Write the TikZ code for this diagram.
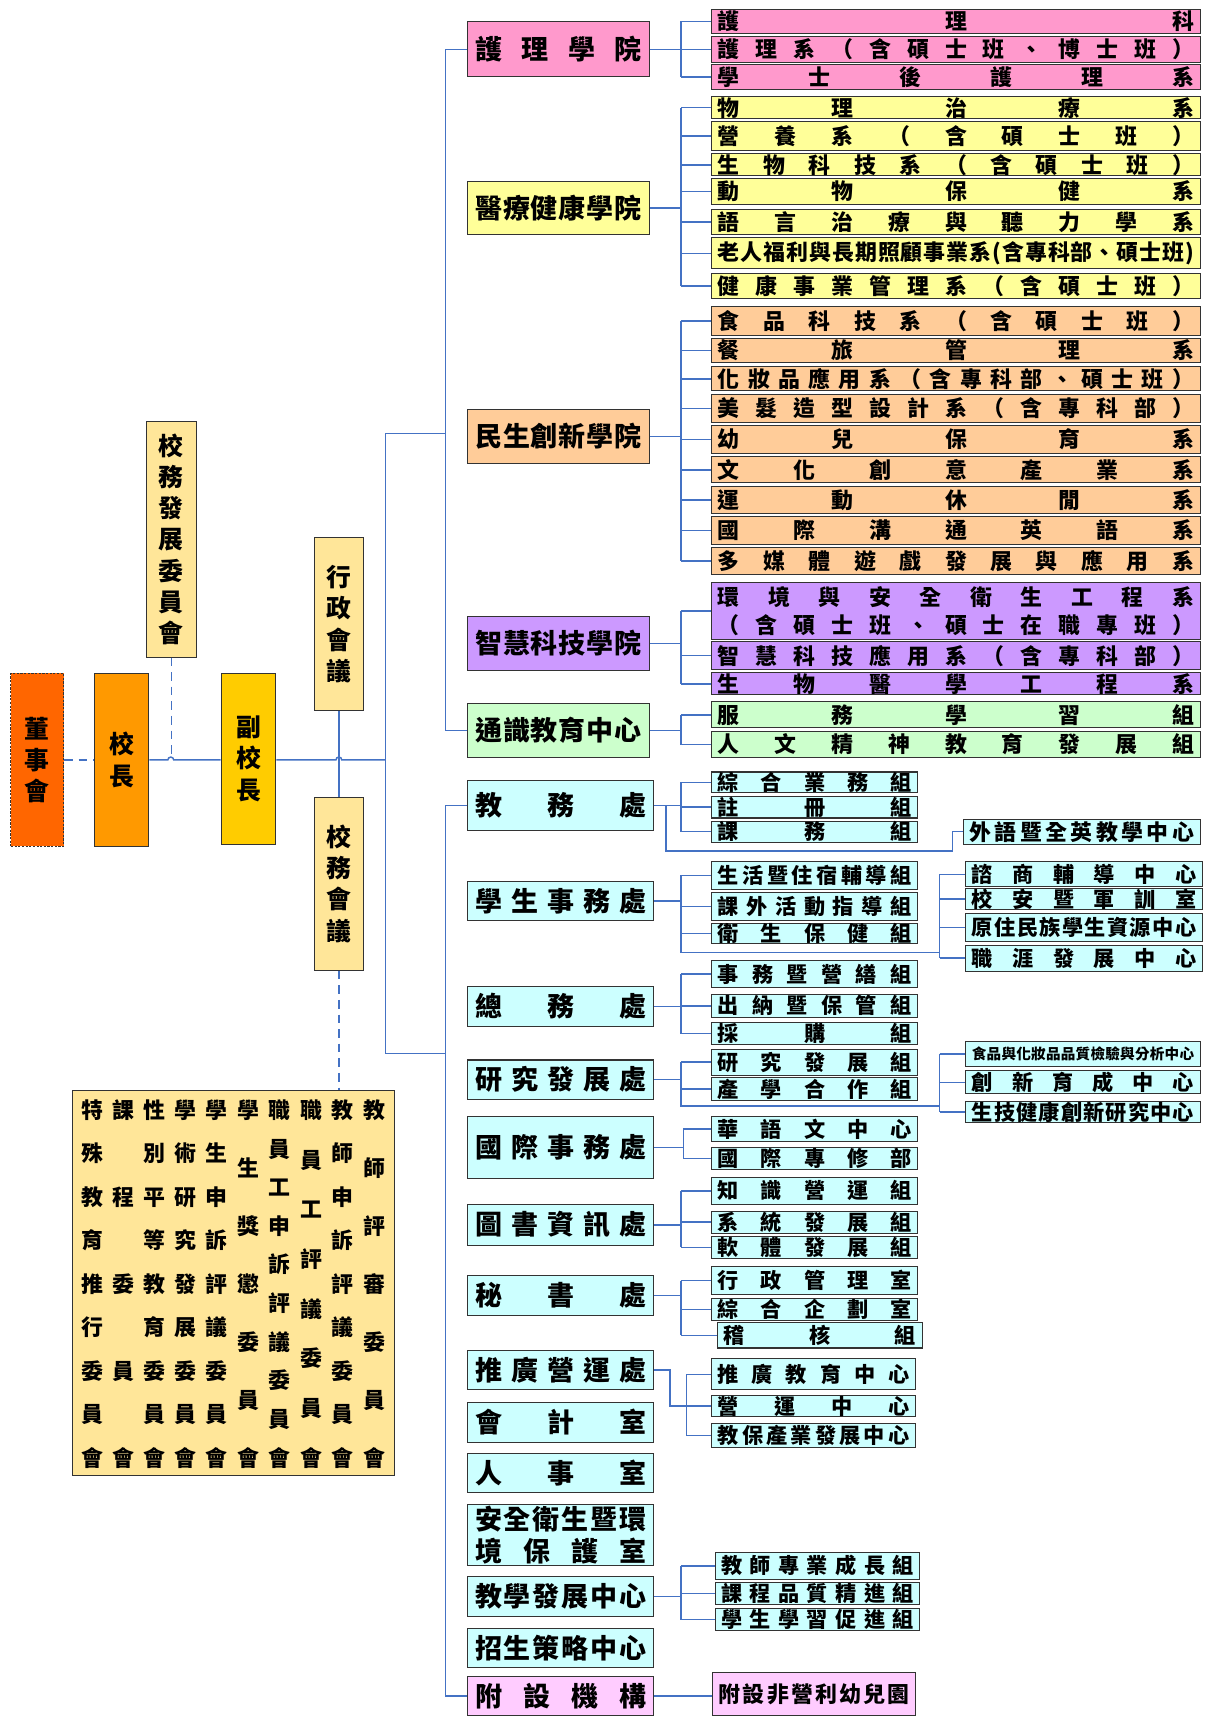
\documentclass[tikz,border=0pt]{standalone}
\usepackage{fontspec}
\setmainfont{Noto Sans CJK TC}
\usetikzlibrary{calc}
\definecolor{lineblue}{HTML}{4472C4}
\definecolor{cdong}{HTML}{FF6600}
\definecolor{cxiao}{HTML}{FF9900}
\definecolor{cfu}{HTML}{FFCC00}
\definecolor{cmeet}{HTML}{FFE699}
\definecolor{cpink}{HTML}{FF99CC}
\definecolor{cyel}{HTML}{FFFF99}
\definecolor{corg}{HTML}{FFCC99}
\definecolor{cpur}{HTML}{CC99FF}
\definecolor{cgrn}{HTML}{CCFFCC}
\definecolor{ccyan}{HTML}{CCFFFF}
\definecolor{cmag}{HTML}{FFCCFF}
\def\sprdend{\sprdend}
\def\sprdi#1#2{#1\ifx#2\sprdend\else\hfill\expandafter\sprdi\expandafter#2\fi}
\def\vsprdi#1#2{\hbox to 1em{\hss#1\hss}\ifx#2\sprdend\else\vfill\expandafter\vsprdi\expandafter#2\fi}
\newcommand\vsprd[2]{\vbox to #1{\vsprdi#2\sprdend}}
\def\pad{11}
% box with spread text: [style]{name}{x1}{y1}{x2}{y2}{fill}{fontsize}{text}
\newcommand\bx[9][]{%
  \pgfmathsetmacro\bw{(#5-#3)*0.75}%
  \pgfmathsetmacro\bh{(#6-#4)*0.75}%
  \pgfmathsetmacro\tw{(#5-#3-\pad)*0.75}%
  \node[box,fill=#7,minimum width=\bw pt,minimum height=\bh pt,
        font=\fontsize{#8}{#8}\selectfont\bfseries,#1] (#2) at ({(#3+#5)/2},{(#4+#6)/2})
        {\makebox[\tw pt][s]{\sprdi#9\sprdend}};}
% box with vertical stacked text
\newcommand\vbx[8][]{%
  \pgfmathsetmacro\bw{(#5-#3)*0.75}%
  \pgfmathsetmacro\bh{(#6-#4)*0.75}%
  \node[box,fill=#7,minimum width=\bw pt,minimum height=\bh pt,align=center,
        font=\fontsize{17}{21.4}\selectfont\bfseries,#1] (#2) at ({(#3+#5)/2},{(#4+#6)/2}) {#8};}
\newcommand\busline[4]{%
  \coordinate (b) at (#1,0);
  \draw[conn] (b |- #2.west) -- (b |- #3.west);
  \foreach \c in {#4} {\draw[conn] (b |- \c.west) -- (\c.west);}}
\newcommand\fan[5]{\busline{#2}{#3}{#4}{#5}\draw[conn] (#1.east) -- (b |- #1.east);}
\tikzset{
  box/.style={draw=black!80,line width=0.7pt,inner sep=0pt,text=black},
  conn/.style={draw=lineblue,line width=1pt},
  dconn/.style={conn,dash pattern=on 6pt off 4pt},
  cmcol/.style={anchor=north,inner sep=0pt,font=\fontsize{15}{15}\selectfont\bfseries},
}
\begin{document}
\begin{tikzpicture}[x=0.75pt,y=-0.75pt]
\useasboundingbox (0,0) rectangle (1100,1568);
\fill[white] (0,0) rectangle (1100,1568);
% ---------- left part
\vbx[dash pattern=on 1.5pt off 1pt]{dsh}{10}{615}{58}{773}{cdong}{董\\事\\會}
\vbx{xz}{86}{615}{136}{773}{cxiao}{校\\長}
\vbx{xwfz}{134}{385}{179}{600}{cmeet}{校\\務\\發\\展\\委\\員\\會}
\vbx{fxz}{202}{615}{252}{771}{cfu}{副\\校\\長}
\vbx{xzhy}{287}{491}{332}{649}{cmeet}{行\\政\\會\\議}
\vbx{xwhy}{287}{728}{332}{886}{cmeet}{校\\務\\會\\議}
\pgfmathsetmacro\bw{(360-66)*0.75}\pgfmathsetmacro\bh{(1347-996)*0.75}
\node[box,fill=cmeet,minimum width=\bw pt,minimum height=\bh pt] (wyh) at (213,1171.5) {};
\node[cmcol] (cm1) at (84,1004) {\vsprd{251pt}{特殊教育推行委員會}};
\node[cmcol] (cm2) at (112.5,1004) {\vsprd{251pt}{課程委員會}};
\node[cmcol] (cm3) at (141,1004) {\vsprd{251pt}{性別平等教育委員會}};
\node[cmcol] (cm4) at (169.5,1004) {\vsprd{251pt}{學術研究發展委員會}};
\node[cmcol] (cm5) at (198,1004) {\vsprd{251pt}{學生申訴評議委員會}};
\node[cmcol] (cm6) at (226.5,1004) {\vsprd{251pt}{學生獎懲委員會}};
\node[cmcol] (cm7) at (255.5,1004) {\vsprd{251pt}{職員工申訴評議委員會}};
\node[cmcol] (cm8) at (284.5,1004) {\vsprd{251pt}{職員工評議委員會}};
\node[cmcol] (cm9) at (313,1004) {\vsprd{251pt}{教師申訴評議委員會}};
\node[cmcol] (cm10) at (342,1004) {\vsprd{251pt}{教師評審委員會}};
% ---------- colleges
\def\pad{14}
\bx{hl}{427}{20}{593}{70}{cpink}{18.5}{護理學院}
\bx{yl}{427}{166}{593}{214}{cyel}{18.5}{醫療健康學院}
\bx{ms}{427}{374}{593}{423}{corg}{18.5}{民生創新學院}
\bx{zh}{427}{563}{593}{612}{cpur}{18.5}{智慧科技學院}
\bx{ts}{427}{642}{593}{692}{cgrn}{18.5}{通識教育中心}
\def\pad{11}
\bx{hl1}{650}{8.5}{1096}{30.5}{cpink}{15}{護理科}
\bx{hl2}{650}{33.5}{1096}{57}{cpink}{15}{護理系（含碩士班、博士班）}
\bx{hl3}{650}{59}{1096}{81.5}{cpink}{15}{學士後護理系}
\bx{yl1}{650}{88}{1096}{108.5}{cyel}{15}{物理治療系}
\bx{yl2}{650}{111}{1096}{137}{cyel}{15}{營養系（含碩士班）}
\bx{yl3}{650}{140.5}{1096}{160.5}{cyel}{15}{生物科技系（含碩士班）}
\bx{yl4}{650}{163}{1096}{186.5}{cyel}{15}{動物保健系}
\bx{yl5}{650}{191}{1096}{214.5}{cyel}{15}{語言治療與聽力學系}
\bx{yl6}{650}{217}{1096}{245.5}{cyel}{15}{老人福利與長期照顧事業系(含專科部、碩士班)}
\bx{yl7}{650}{249.5}{1096}{273}{cyel}{15}{健康事業管理系（含碩士班）}
\bx{ms1}{650}{280}{1096}{306}{corg}{15}{食品科技系（含碩士班）}
\bx{ms2}{650}{309}{1096}{331}{corg}{15}{餐旅管理系}
\bx{ms3}{650}{335}{1096}{357}{corg}{15}{化妝品應用系（含專科部、碩士班）}
\bx{ms4}{650}{360}{1096}{386}{corg}{15}{美髮造型設計系（含專科部）}
\bx{ms5}{650}{389}{1096}{414}{corg}{15}{幼兒保育系}
\bx{ms6}{650}{417}{1096}{441}{corg}{15}{文化創意產業系}
\bx{ms7}{650}{444}{1096}{469}{corg}{15}{運動休閒系}
\bx{ms8}{650}{472}{1096}{497}{corg}{15}{國際溝通英語系}
\bx{ms9}{650}{500}{1096}{525}{corg}{15}{多媒體遊戲發展與應用系}
\node[box,fill=cpur,minimum width=334.5pt,minimum height=39pt,align=left,
      font=\fontsize{15}{18.75}\selectfont\bfseries] (zh1) at (873,558)
      {\makebox[326.25pt][s]{\sprdi 環境與安全衛生工程系\sprdend}\\
       \makebox[326.25pt][s]{\sprdi （含碩士班、碩士在職專班）\sprdend}};
\bx{zh2}{650}{586}{1096}{611.5}{cpur}{15}{智慧科技應用系（含專科部）}
\bx{zh3}{650}{614.5}{1096}{634.5}{cpur}{15}{生物醫學工程系}
\bx{ts1}{650}{641}{1096}{664.5}{cgrn}{15}{服務學習組}
\bx{ts2}{650}{668}{1096}{692}{cgrn}{15}{人文精神教育發展組}
% ---------- administration
\def\pad{14}
\bx{jw}{427}{713}{597}{758}{ccyan}{18.5}{教務處}
\bx{xs}{427}{805}{597}{841}{ccyan}{18.5}{學生事務處}
\bx{zw}{427}{901}{597}{937}{ccyan}{18.5}{總務處}
\bx{yf}{427}{968}{597}{1004}{ccyan}{18.5}{研究發展處}
\bx{gj}{427}{1020}{597}{1076}{ccyan}{18.5}{國際事務處}
\bx{tsz}{427}{1100}{597}{1137}{ccyan}{18.5}{圖書資訊處}
\bx{msc}{427}{1165}{597}{1201}{ccyan}{18.5}{秘書處}
\bx{tg}{427}{1233}{597}{1269}{ccyan}{18.5}{推廣營運處}
\bx{kj}{427}{1281}{597}{1317}{ccyan}{18.5}{會計室}
\bx{rs}{427}{1327}{597}{1363}{ccyan}{18.5}{人事室}
\node[box,fill=ccyan,minimum width=127.5pt,minimum height=42pt,align=left,
      font=\fontsize{18.5}{21.75}\selectfont\bfseries] (aq) at (512,1402)
      {\makebox[117pt][s]{\sprdi 安全衛生暨環\sprdend}\\
       \makebox[117pt][s]{\sprdi 境保護室\sprdend}};
\bx{jx}{427}{1440}{597}{1476}{ccyan}{18.5}{教學發展中心}
\bx{zs}{427}{1487}{597}{1523}{ccyan}{18.5}{招生策略中心}
\bx{fs}{427}{1531}{597}{1567}{cmag}{18.5}{附設機構}
\def\pad{11}
\bx{jw1}{650}{705}{838}{724}{ccyan}{14.5}{綜合業務組}
\bx{jw2}{650}{727}{838}{747}{ccyan}{14.5}{註冊組}
\bx{jw3}{650}{750}{838}{769}{ccyan}{14.5}{課務組}
\bx{jwx}{880}{748}{1096}{771}{ccyan}{15}{外語暨全英教學中心}
\bx{xs1}{650}{787}{838}{812}{ccyan}{14.5}{生活暨住宿輔導組}
\bx{xs2}{650}{815}{838}{841}{ccyan}{14.5}{課外活動指導組}
\bx{xs3}{650}{843}{838}{862}{ccyan}{14.5}{衛生保健組}
\bx{xsr1}{882}{787}{1098}{810}{ccyan}{14.5}{諮商輔導中心}
\bx{xsr2}{882}{811}{1098}{831}{ccyan}{14.5}{校安暨軍訓室}
\bx{xsr3}{882}{834}{1098}{860}{ccyan}{14.5}{原住民族學生資源中心}
\bx{xsr4}{882}{863}{1098}{887}{ccyan}{14.5}{職涯發展中心}
\bx{zw1}{650}{877}{838}{902}{ccyan}{14.5}{事務暨營繕組}
\bx{zw2}{650}{908}{838}{929}{ccyan}{14.5}{出納暨保管組}
\bx{zw3}{650}{934}{838}{954}{ccyan}{14.5}{採購組}
\bx{yf1}{650}{958}{838}{982}{ccyan}{14.5}{研究發展組}
\bx{yf2}{650}{984}{838}{1005}{ccyan}{14.5}{產學合作組}
\bx{yfr1}{882}{951}{1096}{974}{ccyan}{10}{食品與化妝品品質檢驗與分析中心}
\bx{yfr2}{882}{978}{1096}{999}{ccyan}{14.5}{創新育成中心}
\bx{yfr3}{882}{1006}{1096}{1025}{ccyan}{14.5}{生技健康創新研究中心}
\bx{gj1}{650}{1020}{838}{1042}{ccyan}{14.5}{華語文中心}
\bx{gj2}{650}{1048}{838}{1068}{ccyan}{14.5}{國際專修部}
\bx{tsz1}{650}{1075}{838}{1100}{ccyan}{14.5}{知識營運組}
\bx{tsz2}{650}{1106}{838}{1126}{ccyan}{14.5}{系統發展組}
\bx{tsz3}{650}{1129}{838}{1149}{ccyan}{14.5}{軟體發展組}
\bx{msc1}{650}{1157}{838}{1182}{ccyan}{14.5}{行政管理室}
\bx{msc2}{650}{1186}{838}{1206}{ccyan}{14.5}{綜合企劃室}
\bx{msc3}{655}{1208}{842}{1231}{ccyan}{14.5}{稽核組}
\bx{tg1}{650}{1241}{836}{1269}{ccyan}{14.5}{推廣教育中心}
\bx{tg2}{650}{1274}{836}{1294}{ccyan}{14.5}{營運中心}
\bx{tg3}{650}{1300}{836}{1322}{ccyan}{14.5}{教保產業發展中心}
\bx{jx1}{653}{1418}{840}{1442}{ccyan}{14.5}{教師專業成長組}
\bx{jx2}{653}{1445}{840}{1465}{ccyan}{14.5}{課程品質精進組}
\bx{jx3}{653}{1469}{840}{1489}{ccyan}{14.5}{學生學習促進組}
\bx{fs1}{651}{1527}{836}{1567}{cmag}{15}{附設非營利幼兒園}
% ---------- connectors: left
\coordinate (hy) at (0,694);
\coordinate (hopA) at (156,691);
\coordinate (tk) at (352,0);
\coordinate (tkTop) at (352,396);
\coordinate (tkBot) at (352,962);
\coordinate (spC) at (407,0);
\draw[dconn] (dsh.east) -- (xz.west);
\draw[conn] (xz.east) -- (153.3,694) arc[start angle=180,end angle=0,radius=2pt] -- (fxz.west |- hy);
\draw[dconn] (xwfz.south) -- (xwfz.south |- hopA);
\draw[conn] (fxz.east |- hy) -- (306.8,694) arc[start angle=180,end angle=0,radius=2pt] -- (tk |- hy);
\draw[conn] (xzhy.south) -- (xwhy.north);
\draw[dconn] (xwhy.south) -- (xwhy.south |- wyh.north);
\draw[conn] (tkTop) -- (tkBot);
\draw[conn] (tkTop) -- (spC |- tkTop);
\draw[conn] (tkBot) -- (spC |- tkBot);
\draw[conn] (hl.west) -- (spC |- hl.west) -- (spC |- ts.west) -- (ts.west);
\draw[conn] (jw.west) -- (spC |- jw.west) -- (spC |- fs.west) -- (fs.west);
% ---------- connectors: colleges
\fan{hl}{622}{hl1}{hl3}{hl1,hl2,hl3}
\fan{yl}{622}{yl1}{yl7}{yl1,yl2,yl3,yl4,yl5,yl6,yl7}
\fan{ms}{622}{ms1}{ms9}{ms1,ms2,ms3,ms4,ms5,ms6,ms7,ms8,ms9}
\fan{zh}{622}{zh1}{zh3}{zh1,zh2,zh3}
\fan{ts}{622}{ts1}{ts2}{ts1,ts2}
% ---------- connectors: administration
\fan{jw}{622}{jw1}{jw3}{jw1,jw2,jw3}
\coordinate (jwd) at (608,777);
\coordinate (jwbend) at (870,777);
\draw[conn] (jwd |- jw.east) -- (jwd) -- (jwbend) |- (jwx.west);
\fan{xs}{622}{xs1}{xs3}{xs1,xs2,xs3}
\coordinate (xsb) at (622,870);
\coordinate (xsr) at (858,870);
\draw[conn] (xsb |- xs3.west) -- (xsb) -- (xsr);
\busline{858}{xsr1}{xsr4}{xsr1,xsr2,xsr3,xsr4}
\fan{zw}{622}{zw1}{zw3}{zw1,zw2,zw3}
\fan{yf}{622}{yf1}{yf2}{yf1,yf2}
\coordinate (yfb) at (622,1010);
\coordinate (yfr) at (858,1010);
\draw[conn] (yfb |- yf2.west) -- (yfb) -- (yfr);
\busline{858}{yfr1}{yfr3}{yfr1,yfr2,yfr3}
\fan{gj}{624}{gj1}{gj2}{gj1,gj2}
\fan{tsz}{622}{tsz1}{tsz3}{tsz1,tsz2,tsz3}
\fan{msc}{622}{msc1}{msc3}{msc1,msc2,msc3}
\busline{627}{tg1}{tg3}{tg1,tg2,tg3}
\coordinate (tgk) at (612,0);
\draw[conn] (tg.east) -- (tgk |- tg.east) |- (tg2.west);
\fan{jx}{622}{jx1}{jx3}{jx1,jx2,jx3}
\draw[conn] (fs.east) -- (fs.east -| fs1.west);
\end{tikzpicture}
\end{document}
